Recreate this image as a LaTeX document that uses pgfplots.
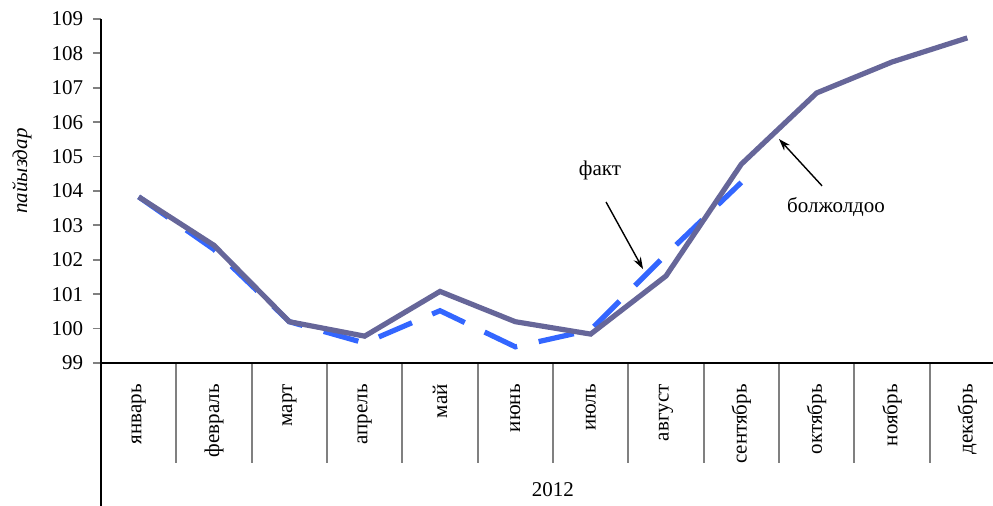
\documentclass[border=0pt]{standalone}
\usepackage{fontspec}
\setmainfont{Liberation Serif}
\usepackage{pgfplots}
\pgfplotsset{compat=1.18}
\usetikzlibrary{arrows.meta}
\definecolor{fakt}{RGB}{51,102,255}
\definecolor{prog}{RGB}{102,102,153}

\pgfplotstableread{
x y
0 103.83
1 102.30
2 100.20
3 99.58
4 100.52
5 99.47
6 99.96
7 102.15
8 104.25
}\fakt

\pgfplotstableread{
x y
0 103.83
1 102.42
2 100.20
3 99.78
4 101.08
5 100.20
6 99.84
7 101.53
8 104.78
9 106.85
10 107.75
11 108.45
}\prog

\begin{document}
\fontsize{10.5}{12}\selectfont
\begin{tikzpicture}
\begin{axis}[
    at={(50.5pt,71.5pt)}, anchor=south west,
    scale only axis,
    width=452pt, height=172pt,
    xmin=-0.5, xmax=11.5,
    ymin=99, ymax=109,
    ytick={99,...,109},
    axis lines=left,
    axis line style={-, line width=0.9pt},
    tick align=outside,
    ytick style={line width=0.9pt, /pgfplots/major tick length=4pt},
    /pgf/number format/assume math mode=true,
    yticklabel style={font=\fontsize{10.5}{12}\selectfont, xshift=-1pt},
    xtick={-0.5,0.5,...,11.5},
    xticklabels={},
    xtick style={line width=0.9pt, /pgfplots/major tick length=50pt},
    extra x ticks={0,...,11},
    extra x tick labels={январь,февраль,март,апрель,май,июнь,июль,август,сентябрь,октябрь,ноябрь,декабрь},
    extra x tick style={xtick style={draw=none}, /pgfplots/major tick length=0pt,
        xticklabel style={rotate=90, anchor=east, font=\fontsize{10.5}{12}\selectfont, xshift=-7pt}},
    xlabel={2012},
    xlabel style={at={(axis description cs:0.5,-0.3895)}, anchor=base},
    ylabel={\itshape пайыздар},
    ylabel style={at={(axis description cs:-0.0874,0.558)}, anchor=center},
    clip=false,
]
\addplot[fakt, line width=2.6pt, dash pattern=on 18pt off 11pt] table[x=x, y=y] {\fakt};
\addplot[prog, line width=2.6pt] table[x=x, y=y] {\prog};

\draw[line width=0.9pt] (rel axis cs:0,0) -- ([yshift=-80pt]rel axis cs:0,0);

\node at (axis cs:6.124,104.61) {факт};
\draw[line width=0.7pt, -{Stealth[length=6pt, width=4pt]}] (axis cs:6.204,103.68) -- (axis cs:6.695,101.73);
\node at (axis cs:9.257,103.53) {болжолдоо};
\draw[line width=0.7pt, -{Stealth[length=6pt, width=4pt]}] (axis cs:9.071,104.15) -- (axis cs:8.50,105.51);
\end{axis}
\pgfresetboundingbox
\useasboundingbox (0,0) rectangle (496.5pt,253pt);
\end{tikzpicture}
\end{document}
